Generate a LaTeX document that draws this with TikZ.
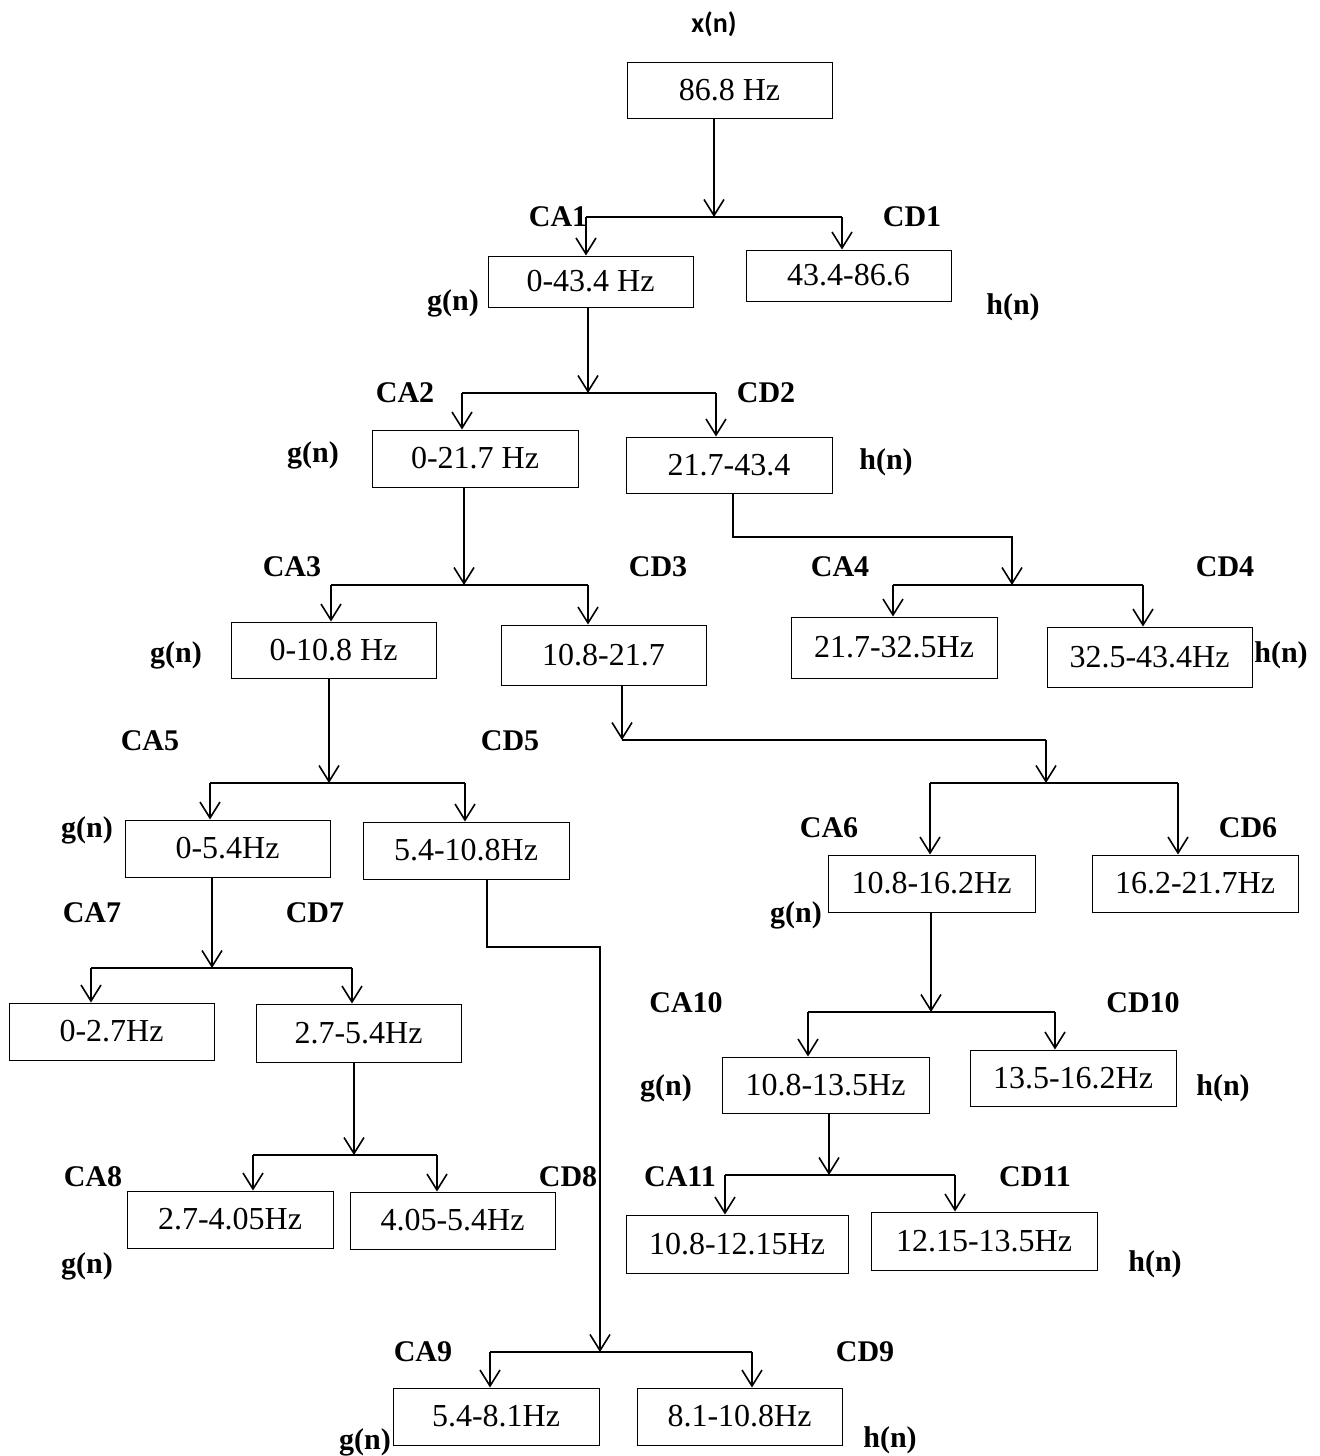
\documentclass[tikz,border=0pt]{standalone}
\usepackage{fontspec}
\setmainfont{Liberation Serif}
\newfontfamily\calib{Carlito}
\usetikzlibrary{arrows.meta}
\newcommand\mybox[7]{\node[box, minimum width={(#4-#2)*0.5pt}, minimum height={(#5-#3)*0.5pt}] (#1) at ({(#2+#4)/2},{(#3+#5)/2}) {#6\hspace{#7pt}};}
\newcommand\myends[6]{%
  \coordinate (#1l) at (#3,#2); \coordinate (#1r) at (#4,#2);
  \draw[ln] (#1l) -- (#1r);
  \draw[arr] (#1l) -- (#1l |- #5.north);
  \draw[arr] (#1r) -- (#1r |- #6.north);}
\newcommand\myfork[7]{%
  \coordinate (#1j) at (#2,#3);
  \draw[arr] (#1j |- #1.south) -- (#1j);
  \myends{#1}{#3}{#4}{#5}{#6}{#7}}
\begin{document}
\begin{tikzpicture}[x=0.5pt,y=-0.5pt,
  box/.style={draw, line width=0.5pt, inner sep=0pt, font=\fontsize{16}{19}\selectfont},
  lab/.style={font=\fontsize{15}{17}\selectfont\bfseries, inner sep=0pt},
  arr/.style={line width=0.8pt, -{Straight Barb[length=8pt,width=10pt,line width=0.8pt]}},
  ln/.style={line width=0.8pt}]
\useasboundingbox (0,0) rectangle (1320,1456);

\mybox{A}{627}{62}{832}{118}{86.8 Hz}{0}
\mybox{B1}{488}{256}{693}{307}{0-43.4 Hz}{0}
\mybox{C1}{746}{250}{951}{301}{43.4-86.6}{0}
\mybox{B2}{372}{430}{578}{487}{0-21.7 Hz}{0}
\mybox{C2}{626}{437}{832}{493}{21.7-43.4}{31}
\mybox{B3}{231}{622}{436}{678}{0-10.8 Hz}{0}
\mybox{C3}{501}{625}{706}{685}{10.8-21.7}{0}
\mybox{B4}{791}{617}{997}{678}{21.7-32.5Hz}{12}
\mybox{C4}{1047}{627}{1252}{687}{32.5-43.4Hz}{13}
\mybox{B5}{125}{820}{330}{877}{0-5.4Hz}{0}
\mybox{C5}{363}{822}{569}{879}{5.4-10.8Hz}{0}
\mybox{B6}{828}{855}{1035}{912}{10.8-16.2Hz}{0}
\mybox{C6}{1092}{855}{1298}{912}{16.2-21.7Hz}{0}
\mybox{B7}{9}{1003}{214}{1060}{0-2.7Hz}{0}
\mybox{C7}{256}{1004}{461}{1062}{2.7-5.4Hz}{0}
\mybox{B8}{127}{1191}{333}{1248}{2.7-4.05Hz}{10}
\mybox{C8}{350}{1192}{555}{1249}{4.05-5.4Hz}{20}
\mybox{B9}{393}{1388}{599}{1445}{5.4-8.1Hz}{26}
\mybox{C9}{637}{1388}{842}{1445}{8.1-10.8Hz}{18}
\mybox{B10}{722}{1057}{929}{1113}{10.8-13.5Hz}{0}
\mybox{C10}{970}{1050}{1176}{1106}{13.5-16.2Hz}{0}
\mybox{B11}{626}{1215}{848}{1273}{10.8-12.15Hz}{0}
\mybox{C11}{871}{1212}{1097}{1270}{12.15-13.5Hz}{19}

% forks
\myfork{A}{714}{217}{586}{842}{B1}{C1}
\myfork{B1}{588}{393}{462}{716}{B2}{C2}
\myfork{B2}{464}{585}{331}{588}{B3}{C3}
\myfork{B3}{329}{783}{210}{465}{B5}{C5}
\myfork{B5}{212}{968}{91}{352}{B7}{C7}
\myfork{C7}{354}{1155}{253}{437}{B8}{C8}
\myfork{B6}{931}{1012}{808}{1055}{B10}{C10}
\myfork{B10}{829}{1175}{725}{955}{B11}{C11}

% C2 -> level 4
\coordinate (C2a) at (733,537); \coordinate (C2j) at (1012,585);
\draw[arr] (C2a |- C2.south) -- (C2a) -- (C2a -| C2j) -- (C2j);
\myends{C2}{585}{893}{1143}{B4}{C4}

% C3 -> level 6
\coordinate (C3a) at (622,740); \coordinate (C3b) at (1046,740); \coordinate (C3j) at (1046,783);
\draw[arr] (C3a |- C3.south) -- (C3a);
\draw[ln] (C3a) -- (C3b);
\draw[arr] (C3b) -- (C3j);
\myends{C3}{783}{930}{1178}{B6}{C6}

% C5 -> level 9
\coordinate (C5a) at (487,947); \coordinate (C5b) at (600,947); \coordinate (C5j) at (600,1352);
\draw[arr] (C5a |- C5.south) -- (C5a) -- (C5b) -- (C5j);
\myends{C5}{1352}{490}{752}{B9}{C9}

% labels
\node[font=\calib\bfseries\fontsize{14}{16}\selectfont, inner sep=0pt] (xn) at (714,24) {x(n)};
\node[lab] (ca1) at (558,217) {CA1};
\node[lab] (cd1) at (912,217) {CD1};
\node[lab] (g1) at (453,303) {g(n)};
\node[lab] (h1) at (1013,307) {h(n)};
\node[lab] (ca2) at (405,393) {CA2};
\node[lab] (cd2) at (766,393) {CD2};
\node[lab] (g2) at (313,455) {g(n)};
\node[lab] (h2) at (886,462) {h(n)};
\node[lab] (ca3) at (292,567) {CA3};
\node[lab] (cd3) at (658,567) {CD3};
\node[lab] (g3) at (176,655) {g(n)};
\node[lab] (ca4) at (840,567) {CA4};
\node[lab] (cd4) at (1225,567) {CD4};
\node[lab] (h4) at (1281,655) {h(n)};
\node[lab] (ca5) at (150,741) {CA5};
\node[lab] (cd5) at (510,741) {CD5};
\node[lab] (g5) at (87,830) {g(n)};
\node[lab] (ca6) at (829,828) {CA6};
\node[lab] (cd6) at (1248,828) {CD6};
\node[lab] (g6) at (796,915) {g(n)};
\node[lab] (ca7) at (92,913) {CA7};
\node[lab] (cd7) at (315,913) {CD7};
\node[lab] (ca8) at (93,1177) {CA8};
\node[lab] (cd8) at (568,1177) {CD8};
\node[lab] (g8) at (87,1266) {g(n)};
\node[lab] (ca9) at (423,1352) {CA9};
\node[lab] (cd9) at (865,1352) {CD9};
\node[lab] (g9) at (365,1442) {g(n)};
\node[lab] (h9) at (890,1440) {h(n)};
\node[lab] (ca10) at (686,1003) {CA10};
\node[lab] (cd10) at (1143,1003) {CD10};
\node[lab] (g10) at (666,1088) {g(n)};
\node[lab] (h10) at (1223,1088) {h(n)};
\node[lab] (ca11) at (680,1177) {CA11};
\node[lab] (cd11) at (1035,1177) {CD11};
\node[lab] (h11) at (1155,1264) {h(n)};
\end{tikzpicture}
\end{document}
